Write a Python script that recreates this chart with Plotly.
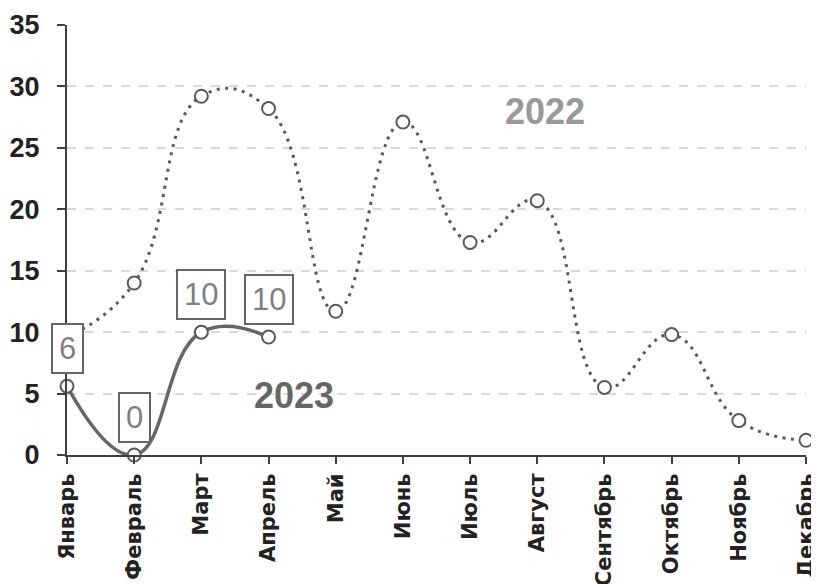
import plotly.graph_objects as go

months = ["Январь", "Февраль", "Март", "Апрель", "Май", "Июнь", "Июль",
          "Август", "Сентябрь", "Октябрь", "Ноябрь", "Декабрь"]
values_2022 = [9.6, 14.0, 29.2, 28.2, 11.7, 27.1, 17.3, 20.7, 5.5, 9.8, 2.8, 1.2]
values_2023 = [5.6, 0.0, 10.0, 9.6]
labels_2023 = ["6", "0", "10", "10"]

FONT = "Liberation Sans, Arial, sans-serif"
XFONT = "DejaVu Sans, Liberation Sans, sans-serif"

fig = go.Figure()
fig.add_trace(go.Scatter(
    x=months, y=values_2022, mode="lines+markers",
    line=dict(color="#595959", width=3, dash="3px,5.5px", shape="spline", smoothing=1.3),
    marker=dict(size=13, color="white", line=dict(color="#595959", width=2)),
    cliponaxis=False, showlegend=False))
fig.add_trace(go.Scatter(
    x=months[:len(values_2023)], y=values_2023, mode="lines+markers",
    line=dict(color="#666666", width=3.5, shape="spline", smoothing=1.3),
    marker=dict(size=13, color="white", line=dict(color="#595959", width=2)),
    cliponaxis=False, showlegend=False))

for m, v, t in zip(months, values_2023, labels_2023):
    fig.add_annotation(x=m, y=v, text=t, showarrow=False, yanchor="bottom", yshift=12,
                       font=dict(family=FONT, size=31, color="#808080"),
                       bgcolor="white", bordercolor="#666666", borderwidth=2, borderpad=6)

fig.add_annotation(x=months[7], y=28.0, text="2022", showarrow=False, xshift=8,
                   font=dict(family=FONT, size=36, color="#999999", weight="bold"))
fig.add_annotation(x=months[3], y=4.84, text="2023", showarrow=False, xshift=25,
                   font=dict(family=FONT, size=36, color="#666666", weight="bold"))

fig.update_layout(
    width=811, height=576, margin=dict(l=59, r=13, t=17, b=129, autoexpand=False),
    plot_bgcolor="white", paper_bgcolor="white",
    font=dict(family=FONT),
)
fig.update_xaxes(
    type="category", range=[0, 11], tickangle=-90,
    showline=True, linecolor="#404040", linewidth=2,
    ticks="outside", ticklen=7, tickcolor="#404040", tickwidth=1.5,
    ticklabelstandoff=1,
    tickfont=dict(family=XFONT, size=21, color="#222222", weight="bold"),
    showgrid=False, fixedrange=True, automargin=False)
fig.update_yaxes(
    range=[0, 35], dtick=5,
    showline=True, linecolor="#404040", linewidth=2,
    ticks="outside", ticklen=8, tickcolor="#404040", tickwidth=1.5,
    ticklabelstandoff=12,
    tickfont=dict(family=FONT, size=27, color="#222222", weight="bold"),
    showgrid=True, gridcolor="#d9d9d9", griddash="dash", gridwidth=1.5,
    zeroline=False, automargin=False)

fig.write_html("out.html")
